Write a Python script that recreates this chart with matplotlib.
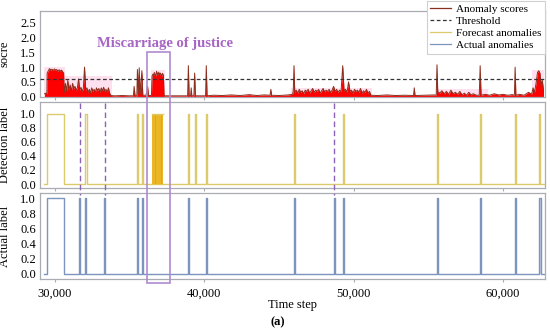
import matplotlib
matplotlib.use("Agg")
import matplotlib.pyplot as plt
from matplotlib.patches import Rectangle
from matplotlib.lines import Line2D
from matplotlib.transforms import blended_transform_factory
from matplotlib.ticker import FuncFormatter, FormatStrFormatter

plt.rcParams['font.family'] = ['Liberation Serif', 'DejaVu Serif']

# ---------------- data ----------------
# anomaly score key points (time step, score)
score_a_t = [29300, 29400, 29460, 29480, 29560, 29640, 29720, 29800, 29880, 29960, 30040, 30120,
             30200, 30280, 30360, 30440, 30520, 30580, 30620]
score_a_v = [0.10, 0.12, 0.10, 0.80, 0.88, 0.95, 0.90, 0.93, 0.88, 0.94, 0.90, 0.92,
             0.86, 0.91, 0.87, 0.90, 0.84, 0.80, 0.12]
score_b_t = [30700, 30780, 30860, 30940, 31020, 31100, 31180, 31260, 31340, 31420, 31500, 31580,
             31660, 31740, 31820, 31900, 31980, 32060, 32140, 32220, 32300, 32380, 32460, 32540,
             32620, 32700, 32780, 32860, 32940, 33020, 33100, 33180, 33260, 33340, 33420, 33500,
             33580, 33660, 33740]
score_b_v = [0.45, 0.20, 0.55, 0.25, 0.40, 0.18, 0.45, 0.28, 0.35, 0.22, 0.30, 0.60,
             0.22, 0.32, 0.18, 0.28, 1.00, 0.22, 0.30, 0.15, 0.25, 0.12, 0.30, 0.18,
             0.25, 0.14, 0.30, 0.20, 0.28, 0.15, 0.30, 0.20, 0.32, 0.18, 0.25, 0.15,
             0.30, 0.12, 0.04]
score_c_t = [34000, 34500, 35000, 35250, 35300, 35360, 35480, 35520, 35580, 35640, 35700, 35820,
             35880, 36100, 36200, 36260, 36460, 36500, 36550, 36600, 36650, 36700, 36750, 36800,
             36850, 36900, 36950, 37000, 37050, 37100, 37150, 37200, 37260, 37300, 37500, 38000,
             38880, 38930, 38980, 39080, 39120, 39160, 39300, 39350, 39400, 40080, 40130, 40180,
             40600, 41200, 41800, 42400, 43000, 43500, 44000, 44400, 44450, 44500, 45000, 45600,
             45900]
score_c_v = [0.03, 0.04, 0.03, 0.03, 0.35, 0.03, 0.03, 0.92, 0.10, 0.98, 0.10, 0.88,
             0.05, 0.05, 0.35, 0.04, 0.04, 0.70, 0.76, 0.72, 0.82, 0.74, 0.70, 0.86,
             0.78, 0.74, 0.83, 0.72, 0.80, 0.76, 0.69, 0.79, 0.72, 0.03, 0.03, 0.03,
             0.03, 1.05, 0.03, 0.03, 0.30, 0.03, 0.03, 0.80, 0.03, 0.03, 1.05, 0.03,
             0.05, 0.04, 0.06, 0.04, 0.07, 0.04, 0.06, 0.05, 0.25, 0.05, 0.04, 0.06,
             0.08]
score_d_t = [45950, 46000, 46050, 46150, 46250, 46350, 46450, 46550, 46650, 46750, 46850, 46950,
             47050, 47150, 47250, 47350, 47450, 47550, 47650, 47750, 47850, 47950, 48050, 48150,
             48250, 48350, 48450, 48550, 48650, 48750, 48850, 48950, 49050, 49150, 49260, 49350,
             49450, 49550, 49650, 49750, 49850, 49950, 50050, 50150, 50250, 50350, 50450, 50550,
             50650, 50750, 50850, 50950, 51050, 51150]
score_d_v = [0.20, 1.05, 0.15, 0.22, 0.12, 0.25, 0.15, 0.20, 0.10, 0.22, 0.18, 0.25,
             0.12, 0.20, 0.28, 0.15, 0.22, 0.18, 0.25, 0.12, 0.20, 0.28, 0.16, 0.22,
             0.18, 0.25, 0.14, 0.22, 0.35, 0.18, 0.25, 0.15, 0.22, 0.18, 1.05, 0.20,
             0.25, 0.15, 0.50, 0.18, 0.22, 0.12, 0.25, 0.18, 0.22, 0.15, 0.28, 0.12,
             0.20, 0.15, 0.25, 0.12, 0.18, 0.05]
score_e_t = [51600, 52200, 52800, 53400, 54000, 54050, 54100, 54800, 55400, 55520, 55570, 55620,
             55750, 55900, 56050, 56200, 56350, 56500, 56650, 56800, 56950, 57100, 57250, 57400,
             57550, 57700, 57850, 58000, 58200, 58400, 58460, 58520, 58800, 59100, 59400, 59700,
             60000, 60300, 60600, 60750, 60800, 60850, 61100, 61400, 61700, 61900, 62000, 62100,
             62200, 62300, 62380, 62460, 62540, 62620, 62700]
score_e_v = [0.04, 0.06, 0.04, 0.05, 0.04, 0.30, 0.04, 0.05, 0.06, 0.05, 1.08, 0.18,
             0.12, 0.20, 0.10, 0.18, 0.08, 0.22, 0.10, 0.15, 0.08, 0.18, 0.06, 0.12,
             0.05, 0.15, 0.06, 0.10, 0.05, 0.05, 1.05, 0.05, 0.08, 0.05, 0.10, 0.06,
             0.08, 0.05, 0.07, 0.05, 1.00, 0.05, 0.08, 0.05, 0.15, 0.08, 0.30, 0.15,
             0.45, 0.82, 0.88, 0.80, 0.40, 0.55, 0.20]

# pink envelope regions (start, end, height)
band_start = [29300, 30650, 36400, 45800, 55500, 61950]
band_end = [30650, 33800, 37350, 51250, 59000, 62750]
band_top = [1.00, 0.70, 0.90, 0.30, 0.25, 0.90]

threshold = 0.60

# forecast (detected) anomaly segments
det_start = [29470, 32000, 35500, 35820, 38930, 39350, 40100, 46000, 49250, 55560, 58440, 60780, 62400]
det_end = [30600, 32150, 35560, 35880, 39000, 39420, 40170, 46070, 49320, 55640, 58510, 60850, 62480]
# dense detections inside the "miscarriage of justice" window
dense_start = [36500, 36580, 36660, 36740, 36820, 36900, 36980, 37060, 37140]
dense_end = [36580, 36660, 36740, 36820, 36900, 36980, 37060, 37140, 37250]

# actual anomaly segments
act_start = [29470, 31620, 32000, 33300, 35500, 35820, 38930, 40100, 45980, 48660, 49250, 55560, 58440, 60780, 62400]
act_end = [30600, 31700, 32080, 33360, 35570, 35900, 39000, 40170, 46060, 48730, 49320, 55640, 58510, 60850, 62500]

# missed anomalies (dashed markers) and highlighted window
missed = [31650, 33330, 48700]
window = (36170, 37720)

x_start, x_end = 29300, 62750
xticks = [30000, 40000, 50000, 60000]

# ---------------- helpers ----------------
def step_series(starts, ends, x0, x1):
    xs, ys = [x0], [0]
    for s, e in zip(starts, ends):
        xs += [s, s, e, e]
        ys += [0, 1, 1, 0]
    xs.append(x1)
    ys.append(0)
    return xs, ys

# ---------------- figure ----------------
fig = plt.figure(figsize=(5.5, 3.35), dpi=100)
L, R = 40 / 550, 545 / 550
def axpos(top_px, bot_px):
    return [L, 1 - bot_px / 335, R - L, (bot_px - top_px) / 335]

ax1 = fig.add_axes(axpos(11, 97))
ax2 = fig.add_axes(axpos(102, 188), sharex=ax1)
ax3 = fig.add_axes(axpos(193, 279), sharex=ax1)

spine_col = '#a9adb3'
for ax in (ax1, ax2, ax3):
    for s in ax.spines.values():
        s.set_color(spine_col)
        s.set_linewidth(0.9)
    ax.tick_params(axis='y', length=0, labelsize=9, pad=3)
    ax.tick_params(axis='x', length=2, color=spine_col, labelsize=9, pad=4)
    ax.yaxis.set_major_formatter(FormatStrFormatter('%.1f'))

score_t = score_a_t + score_b_t + score_c_t + score_d_t + score_e_t
score_v = score_a_v + score_b_v + score_c_v + score_d_v + score_e_v

# top panel
for s, e, h in zip(band_start, band_end, band_top):
    ax1.fill_between([s, e], [h, h], 0, color='#ffe0ee', lw=0, zorder=0)
ax1.fill_between(score_t, score_v, 0, color='#ff0000', lw=0, zorder=1)
ax1.plot(score_t, score_v, color='#8b2f1f', lw=0.7, zorder=2)
ax1.axhline(threshold, color='#333333', lw=0.9, ls=(0, (3, 2)), zorder=3)
ax1.set_ylim(-0.01, 2.9)
ax1.set_yticks([0.0, 0.5, 1.0, 1.5, 2.0, 2.5])
ax1.set_ylabel('socre', fontsize=9)
ax1.yaxis.set_label_coords(-0.058, 0.5)
plt.setp(ax1.get_xticklabels(), visible=False)

# middle panel
det_col = '#dccb6a'
dsx, dsy = step_series(det_start, det_end, x_start, x_end)
ax2.plot(dsx, dsy, color=det_col, lw=1.0, zorder=2)
for s, e in zip(dense_start, dense_end):
    ax2.fill_between([s, e], [1, 1], 0, color='#f0a010', lw=0, zorder=3)
    ax2.plot([s, s], [0, 1], color='#e8c030', lw=0.5, zorder=4)
ax2.plot([dense_start[0], dense_end[-1]], [1, 1], color=det_col, lw=1.0, zorder=4)
ax2.set_ylim(-0.057, 1.17)
ax2.set_yticks([0.0, 0.2, 0.4, 0.6, 0.8, 1.0])
ax2.set_ylabel('Detection label', fontsize=9)
ax2.yaxis.set_label_coords(-0.058, 0.5)
plt.setp(ax2.get_xticklabels(), visible=False)

# bottom panel
act_col = '#7d94bf'
asx, asy = step_series(act_start, act_end, x_start, x_end)
for s, e in zip(act_start, act_end):
    if e - s < 300:
        ax3.fill_between([s, e], [1, 1], 0, color='#c9d6ea', lw=0, zorder=1)
ax3.plot(asx, asy, color=act_col, lw=1.0, zorder=2)
ax3.set_ylim(-0.066, 1.066)
ax3.set_yticks([0.0, 0.2, 0.4, 0.6, 0.8, 1.0])
ax3.set_ylabel('Actual label', fontsize=9)
ax3.yaxis.set_label_coords(-0.058, 0.5)
ax3.set_xlim(29000, 62800)
ax3.set_xticks(xticks)
ax3.xaxis.set_major_formatter(FuncFormatter(lambda v, p: f'{int(v):,}'))
ax3.set_xlabel('Time step', fontsize=9, labelpad=0)

# missed-anomaly dashed markers (from middle panel top to bottom panel top)
tr = blended_transform_factory(ax3.transData, fig.transFigure)
for m in missed:
    fig.add_artist(Line2D([m, m], [1 - 103 / 335, 1 - 195 / 335], transform=tr,
                          color='#8a63b8', lw=1.0, ls=(0, (4, 2.5))))

# highlighted window
rect = Rectangle((window[0], 1 - 283 / 335), window[1] - window[0], (283 - 52) / 335,
                 transform=tr, fill=False, edgecolor='#b08ad0', lw=1.2)
fig.add_artist(rect)
fig.text(165 / 550, 1 - 44 / 335, 'Miscarriage of justice', ha='center', va='center',
         fontsize=10.5, fontweight='bold', color='#a766c4')

# legend
handles = [Line2D([], [], color='#8b2f1f', lw=0.9),
           Line2D([], [], color='#333333', lw=0.9, ls=(0, (3, 2))),
           Line2D([], [], color=det_col, lw=0.9),
           Line2D([], [], color=act_col, lw=0.9)]
labels = ['Anomaly scores', 'Threshold', 'Forecast anomalies', 'Actual anomalies']
leg = fig.legend(handles, labels, loc='upper right', bbox_to_anchor=(546 / 550, 1.0),
                 fontsize=8, frameon=True, fancybox=False, framealpha=1,
                 edgecolor='#d0d0d0', handlelength=1.9, handletextpad=0.45,
                 labelspacing=0.2, borderpad=0.3, borderaxespad=0.1)
leg.get_frame().set_linewidth(0.8)

fig.text(278 / 550, 1 - 322 / 335, '(a)', ha='center', va='center', fontsize=9, fontweight='bold')

fig.savefig('out.png', dpi=100)
